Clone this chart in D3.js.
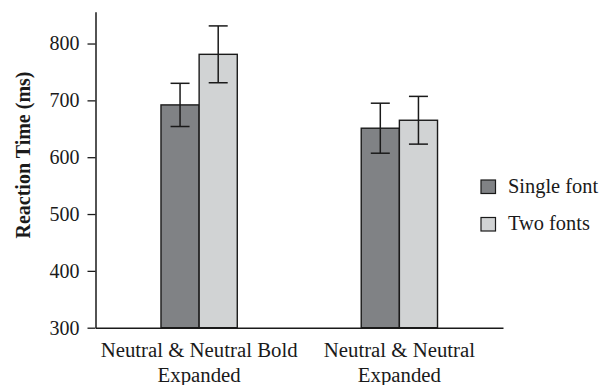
<!DOCTYPE html>
<html>
<head>
<meta charset="utf-8">
<script src="https://cdn.jsdelivr.net/npm/d3@7"></script>
<style>
  html, body { margin: 0; padding: 0; background: #fff; }
  svg { display: block; }
  text { font-family: "Liberation Serif", "Times New Roman", serif; fill: #1a1a1a; }
</style>
</head>
<body>
<svg id="chart" width="600" height="385"></svg>
<script>
// ---- data ----
const categories = ["Neutral & Neutral Bold|Expanded", "Neutral & Neutral|Expanded"];
const seriesNames = ["Single font", "Two fonts"];
const singleFont = [692, 651];
const twoFonts = [781, 665];
const singleFontErr = [38, 44];
const twoFontsErr = [50, 42];
const yTicks = [300, 400, 500, 600, 700, 800];
const yTitle = "Reaction Time (ms)";

const colors = ["#808285", "#d1d3d4"];

const rows = categories.map((c, i) => ({
  cat: c,
  values: [
    { s: seriesNames[0], v: singleFont[i], e: singleFontErr[i] },
    { s: seriesNames[1], v: twoFonts[i], e: twoFontsErr[i] }
  ]
}));

const svg = d3.select("#chart");
const x0 = 95.5, xEnd = 503, yBase = 327.7, yTop = 11.7;

const y = d3.scaleLinear().domain([300, 856]).range([yBase, yTop]);
const x = d3.scaleBand().domain(categories).range([x0, xEnd])
  .paddingInner(0.619).paddingOuter(0.327);
const xs = d3.scaleBand().domain(seriesNames).range([0, x.bandwidth()]);
const color = d3.scaleOrdinal().domain(seriesNames).range(colors);

// y axis
const yAxis = d3.axisLeft(y).tickValues(yTicks).tickSize(8).tickPadding(8).tickSizeOuter(0);
const gy = svg.append("g").attr("transform", `translate(${x0},0)`).call(yAxis);
gy.select(".domain").attr("stroke", "#1a1a1a").attr("stroke-width", 1.5);
gy.selectAll(".tick line").attr("stroke", "#1a1a1a").attr("stroke-width", 1.3);
gy.selectAll(".tick text").attr("font-size", 20)
  .style("font-family", '"Liberation Serif", serif').attr("fill", "#1a1a1a");

// x axis baseline
const xAxis = d3.axisBottom(x).tickSize(0).tickSizeOuter(0).tickFormat("");
const gx = svg.append("g").attr("transform", `translate(0,${yBase})`).call(xAxis);
gx.select(".domain").attr("stroke", "#1a1a1a").attr("stroke-width", 1.5);

// category labels
const labels = svg.append("g").selectAll("text").data(categories).join("text")
  .attr("text-anchor", "middle")
  .attr("font-size", 20.8)
  .attr("transform", d => `translate(${x(d) + x.bandwidth() / 2},${yBase + 29.6})`);
labels.selectAll("tspan").data(d => d.split("|")).join("tspan")
  .attr("x", 0).attr("dy", (d, i) => i === 0 ? 0 : 25).text(d => d);

// bars
const groups = svg.append("g").selectAll("g").data(rows).join("g")
  .attr("transform", d => `translate(${x(d.cat)},0)`);
groups.selectAll("rect").data(d => d.values).join("rect")
  .attr("x", d => xs(d.s))
  .attr("y", d => y(d.v))
  .attr("width", xs.bandwidth())
  .attr("height", d => yBase - y(d.v))
  .attr("fill", d => color(d.s))
  .attr("stroke", "#1a1a1a")
  .attr("stroke-width", 1.4);

// error bars
const cap = 9.5;
const eb = groups.selectAll("g.err").data(d => d.values).join("g").attr("class", "err")
  .attr("stroke", "#1a1a1a").attr("stroke-width", 1.5);
eb.append("line")
  .attr("x1", d => xs(d.s) + xs.bandwidth() / 2).attr("x2", d => xs(d.s) + xs.bandwidth() / 2)
  .attr("y1", d => y(d.v + d.e)).attr("y2", d => y(d.v - d.e));
eb.append("line")
  .attr("x1", d => xs(d.s) + xs.bandwidth() / 2 - cap).attr("x2", d => xs(d.s) + xs.bandwidth() / 2 + cap)
  .attr("y1", d => y(d.v + d.e)).attr("y2", d => y(d.v + d.e));
eb.append("line")
  .attr("x1", d => xs(d.s) + xs.bandwidth() / 2 - cap).attr("x2", d => xs(d.s) + xs.bandwidth() / 2 + cap)
  .attr("y1", d => y(d.v - d.e)).attr("y2", d => y(d.v - d.e));

// y title
svg.append("text")
  .attr("transform", "translate(29.5,155) rotate(-90)")
  .attr("text-anchor", "middle")
  .attr("font-size", 20)
  .attr("font-weight", "bold")
  .text(yTitle);

// legend
const legend = svg.append("g").attr("transform", "translate(481,180)");
const li = legend.selectAll("g").data(seriesNames).join("g")
  .attr("transform", (d, i) => `translate(0,${i * 37.5})`);
li.append("rect").attr("width", 14.5).attr("height", 13.5)
  .attr("fill", d => color(d)).attr("stroke", "#1a1a1a").attr("stroke-width", 1.2);
li.append("text").attr("x", 27).attr("y", 12.7).attr("font-size", 20.4).text(d => d);
</script>
</body>
</html>
